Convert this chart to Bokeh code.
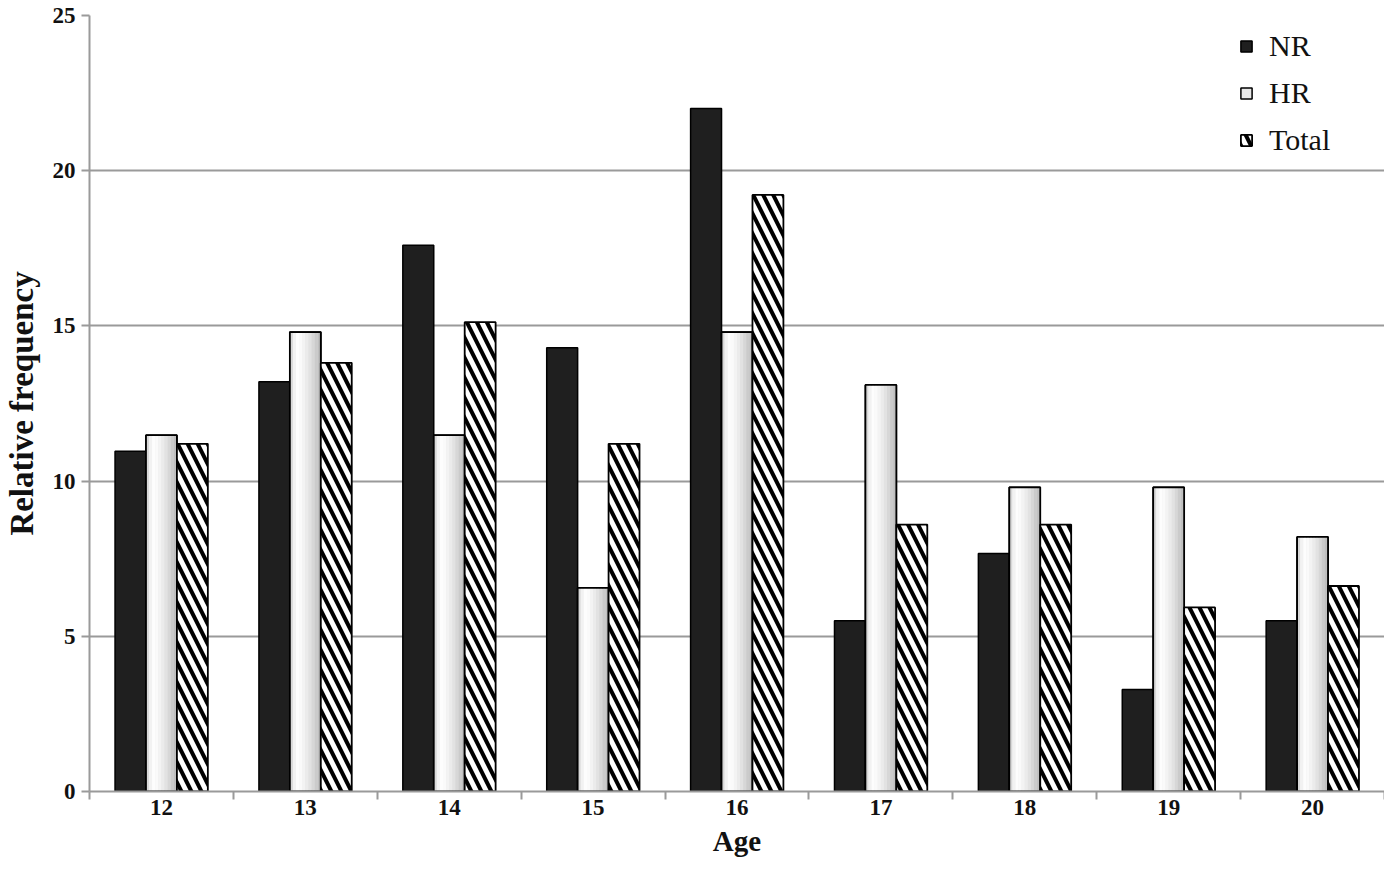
from bokeh.plotting import figure
from bokeh.models import ColumnDataSource, FixedTicker, Range1d, Legend, LegendItem
from bokeh.transform import dodge
from bokeh.embed import file_html
from bokeh.resources import INLINE

ages = [12, 13, 14, 15, 16, 17, 18, 19, 20]
nr = [10.96, 13.2, 17.6, 14.3, 22.0, 5.5, 7.67, 3.29, 5.5]
hr = [11.48, 14.8, 11.48, 6.56, 14.8, 13.1, 9.8, 9.8, 8.2]
total = [11.2, 13.81, 15.12, 11.2, 19.22, 8.6, 8.6, 5.93, 6.62]
y_ticks = [0, 5, 10, 15, 20, 25]

src = ColumnDataSource(dict(age=ages, nr=nr, hr=hr, total=total))

FONT = "Liberation Serif"
GRID = "#9a9a9a"
BW = 0.215

p = figure(width=1384, height=859, min_border_left=88, min_border_top=15,
           min_border_bottom=67, min_border_right=0,
           x_range=Range1d(11.5, 20.5), y_range=Range1d(0, 25),
           output_backend="svg", toolbar_location=None)
p.outline_line_color = None
p.background_fill_color = "white"

# NR bars
r_nr = p.vbar(x=dodge("age", -BW), top="nr", width=BW, source=src,
              fill_color="#1f1f1f", line_color="black", line_width=1.5)

# HR bars with horizontal gradient (strips)
r_hr = p.vbar(x=dodge("age", 0), top="hr", width=BW, source=src,
              fill_color="#e8e8e8", line_color="black", line_width=1.5)
strip_colors = ["#d8d8d8", "#f2f2f2", "#fdfdfd", "#fafafa", "#f3f3f3",
                "#ebebeb", "#e2e2e2", "#d7d7d7", "#cbcbcb", "#c0c0c0"]
n = len(strip_colors)
sw = BW / n
for i, c in enumerate(strip_colors):
    off = -BW / 2 + sw * (i + 0.5)
    p.vbar(x=dodge("age", off), top="hr", width=sw * 1.05, source=src,
           fill_color=c, line_color=None)
p.vbar(x=dodge("age", 0), top="hr", width=BW, source=src,
       fill_color=None, line_color="black", line_width=1.8)

# Total bars hatched
r_tot = p.vbar(x=dodge("age", BW), top="total", width=BW, source=src,
               fill_color="white", line_color="black", line_width=1.8,
               hatch_pattern="\\", hatch_color="black", hatch_weight=4, hatch_scale=20)

# axes
p.xaxis.ticker = FixedTicker(ticks=ages, minor_ticks=[a - 0.5 for a in ages] + [ages[-1] + 0.5])
p.xaxis.major_tick_line_color = None
p.xaxis.major_tick_out = 0
p.xaxis.major_tick_in = 0
p.xaxis.minor_tick_line_color = GRID
p.xaxis.minor_tick_line_width = 2
p.xaxis.minor_tick_out = 8
p.xaxis.minor_tick_in = 0
p.xaxis.major_label_standoff = 0
p.xaxis.axis_label = "Age"
p.xaxis.axis_label_standoff = 7

p.yaxis.ticker = FixedTicker(ticks=y_ticks, minor_ticks=[])
p.yaxis.major_tick_line_color = GRID
p.yaxis.major_tick_line_width = 2
p.yaxis.major_tick_out = 8
p.yaxis.major_tick_in = 0
p.yaxis.minor_tick_line_color = None
p.yaxis.major_label_standoff = 6
p.yaxis.axis_label = "Relative frequency"
p.yaxis.axis_label_standoff = 10

for ax in (p.xaxis, p.yaxis):
    ax.axis_line_color = GRID
    ax.axis_line_width = 2
    ax.major_label_text_font = FONT
    ax.major_label_text_font_style = "bold"
    ax.major_label_text_font_size = "23px"
    ax.major_label_text_color = "#111111"
    ax.axis_label_text_font = FONT
    ax.axis_label_text_font_style = "bold"
    ax.axis_label_text_color = "#111111"
p.xaxis.axis_label_text_font_size = "29px"
p.yaxis.axis_label_text_font_size = "33px"

p.xgrid.grid_line_color = None
p.ygrid.grid_line_color = GRID
p.ygrid.grid_line_width = 2

legend = Legend(items=[LegendItem(label="NR", renderers=[r_nr]),
                       LegendItem(label="HR", renderers=[r_hr]),
                       LegendItem(label="Total", renderers=[r_tot])],
                location=(1150, 634))
legend.border_line_color = None
legend.background_fill_alpha = 0
legend.padding = 0
legend.margin = 0
legend.glyph_width = 14
legend.glyph_height = 14
legend.label_height = 20
legend.spacing = 13
legend.label_standoff = 16
legend.label_text_font = FONT
legend.label_text_font_size = "30px"
legend.label_text_color = "#111111"
p.add_layout(legend, "center")

open("out.html", "w").write(file_html(p, INLINE))
